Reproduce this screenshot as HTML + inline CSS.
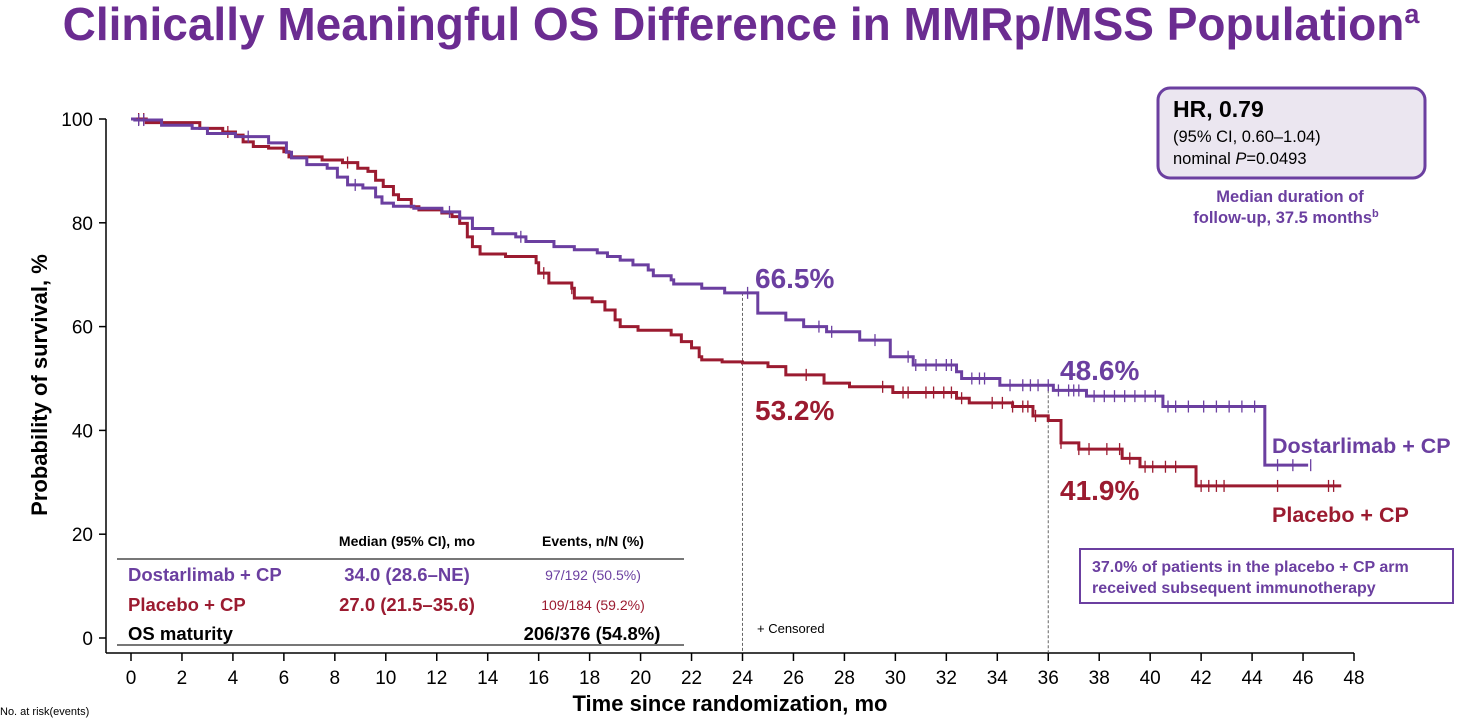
<!DOCTYPE html>
<html><head><meta charset="utf-8">
<style>
html,body{margin:0;padding:0;background:#fff;}
body{width:1482px;height:722px;overflow:hidden;position:relative;font-family:"Liberation Sans",Arial,sans-serif;}
svg text{font-family:"Liberation Sans",Arial,sans-serif;}
</style></head>
<body>
<svg id="chart" width="1482" height="722" xmlns="http://www.w3.org/2000/svg">
<text x="741" y="40" text-anchor="middle" font-size="46" font-weight="bold" fill="#6b2c91">Clinically Meaningful OS Difference in MMRp/MSS Population<tspan font-size="27" dy="-17">a</tspan></text>
<g id="axes"></g>
<g id="series"></g>
<rect x="1158" y="88" width="267" height="90" rx="12" fill="#ebe6f0" stroke="#6b3fa0" stroke-width="3"/>
<text x="1173" y="117" font-size="23" font-weight="bold" fill="#000">HR, 0.79</text>
<text x="1173" y="142" font-size="16.5" fill="#000">(95% CI, 0.60–1.04)</text>
<text x="1173" y="164" font-size="16.5" fill="#000">nominal <tspan font-style="italic">P</tspan>=0.0493</text>
<text x="1290" y="202" text-anchor="middle" font-size="16.5" font-weight="bold" fill="#6b3fa0">Median duration of</text>
<text x="1286" y="223" text-anchor="middle" font-size="16.5" font-weight="bold" fill="#6b3fa0">follow-up, 37.5 months<tspan font-size="11" dy="-6">b</tspan></text>
<text x="755" y="288" font-size="28" font-weight="bold" fill="#6b3fa0">66.5%</text>
<text x="755" y="420" font-size="28" font-weight="bold" fill="#9b1b30">53.2%</text>
<text x="1060" y="380" font-size="28" font-weight="bold" fill="#6b3fa0">48.6%</text>
<text x="1060" y="500" font-size="28" font-weight="bold" fill="#9b1b30">41.9%</text>
<text x="1272" y="453" font-size="21.5" font-weight="bold" fill="#6b3fa0">Dostarlimab + CP</text>
<text x="1272" y="522" font-size="21.5" font-weight="bold" fill="#9b1b30">Placebo + CP</text>
<rect x="1080" y="549" width="373" height="54" fill="#fff" stroke="#6b3fa0" stroke-width="2"/>
<text x="1092" y="572" font-size="16" font-weight="bold" fill="#6b3fa0">37.0% of patients in the placebo + CP arm</text>
<text x="1092" y="593" font-size="16" font-weight="bold" fill="#6b3fa0">received subsequent immunotherapy</text>
<text x="757" y="633" font-size="13" fill="#000">+ Censored</text>
<g>
<line x1="117" y1="559" x2="684" y2="559" stroke="#777" stroke-width="2"/>
<line x1="117" y1="645" x2="684" y2="645" stroke="#777" stroke-width="2"/>
<text x="407" y="546" text-anchor="middle" font-size="14" font-weight="bold">Median (95% CI), mo</text>
<text x="593" y="546" text-anchor="middle" font-size="14" font-weight="bold">Events, n/N (%)</text>
<text x="128" y="581" font-size="18.5" font-weight="bold" fill="#6b3fa0">Dostarlimab + CP</text>
<text x="407" y="581" text-anchor="middle" font-size="18.5" font-weight="bold" fill="#6b3fa0">34.0 (28.6–NE)</text>
<text x="593" y="580" text-anchor="middle" font-size="14" fill="#6b3fa0">97/192 (50.5%)</text>
<text x="128" y="611" font-size="18.5" font-weight="bold" fill="#9b1b30">Placebo + CP</text>
<text x="407" y="611" text-anchor="middle" font-size="18.5" font-weight="bold" fill="#9b1b30">27.0 (21.5–35.6)</text>
<text x="593" y="610" text-anchor="middle" font-size="14" fill="#9b1b30">109/184 (59.2%)</text>
<text x="128" y="640" font-size="18.5" font-weight="bold" fill="#000">OS maturity</text>
<text x="592" y="640" text-anchor="middle" font-size="18.5" font-weight="bold" fill="#000">206/376 (54.8%)</text>
</g>
<text x="730" y="711" text-anchor="middle" font-size="22" font-weight="bold">Time since randomization, mo</text>
<text transform="translate(47,385) rotate(-90)" text-anchor="middle" font-size="22" font-weight="bold">Probability of survival, %</text>
<text x="0" y="715" font-size="11">No. at risk(events)</text>
</svg>
<script>
const xTicks=[0,2,4,6,8,10,12,14,16,18,20,22,24,26,28,30,32,34,36,38,40,42,44,46,48];
const yTicks=[0,20,40,60,80,100];
const dostarTimes=[0,0.15,1.2,2.4,3.0,4.1,5.4,6.1,6.3,6.9,7.7,8.1,8.5,9.1,9.6,9.85,10.3,11.1,12.2,12.9,13.4,14.2,15.1,15.5,16.6,17.4,18.3,18.7,19.2,19.7,20.3,20.5,21.2,21.3,22.4,23.3,24.6,25.7,26.4,27.3,28.6,29.8,30.7,32.4,32.6,34.1,36.2,37.5,40.5,44.5,46.2];
const dostarSurv=[100,99.8,98.8,98.2,97.2,96.6,95.4,93.6,92.5,91.2,90.5,88.8,87.3,86.7,85.0,83.8,83.2,82.8,82.1,80.9,78.9,77.9,77.3,76.4,75.4,74.8,74.2,73.5,72.8,71.9,70.9,69.8,69.0,68.2,67.4,66.5,62.6,61.3,60.0,59.0,57.4,54.2,52.6,51.3,50.0,48.7,47.7,46.6,44.6,33.3,33.3];
const placeboTimes=[0,0.6,2.7,3.6,4.1,4.4,4.8,5.4,6.0,6.2,7.5,8.3,8.9,9.3,9.6,9.9,10.3,10.5,11.0,11.3,12.2,12.6,12.9,13.2,13.4,13.7,14.7,15.9,16.0,16.4,17.3,17.4,18.1,18.6,19.0,19.2,19.9,21.2,21.6,22.0,22.3,22.4,23.2,24.0,25.0,25.7,27.2,28.2,29.9,32.4,32.9,34.6,35.4,36.0,36.5,37.2,38.9,39.6,41.8,47.5];
const placeboSurv=[100,99.3,98.2,97.5,96.9,95.6,94.7,94.4,93.7,92.7,92.1,91.6,90.5,89.9,88.2,87.0,85.4,84.5,83.1,82.5,81.9,81.2,79.9,77.3,75.4,74.0,73.5,72.3,70.3,68.4,67.4,65.5,64.8,63.2,61.3,60.0,59.3,58.4,57.1,55.9,54.2,53.6,53.2,53.0,52.3,50.7,49.1,48.4,47.3,46.2,45.3,44.6,42.8,41.9,37.6,36.4,34.6,33.0,29.3,29.3];
const dostarCensor=[0.3,0.5,4.6,8.8,12.5,15.3,24.2,27.0,27.5,29.2,30.5,30.8,31.2,31.6,32.0,32.2,33.0,33.3,33.5,34.5,35.0,35.3,35.6,36.0,36.4,36.8,37.0,37.2,37.8,38.2,38.6,39.0,39.4,39.8,40.2,40.7,41.0,41.5,42.1,42.6,43.1,43.6,44.1,45.0,45.6,46.3];
const placeboCensor=[0.3,0.5,3.8,8.5,16.2,17.3,26.5,29.5,30.3,30.5,31.2,31.5,31.9,32.2,32.6,33.8,34.2,34.6,35.0,35.2,35.5,36.5,37.2,37.6,38.3,38.8,39.2,39.8,40.1,40.6,41.0,42.0,42.3,42.6,42.9,45.0,47.0,47.2];

const NS='http://www.w3.org/2000/svg';
const X0=131,X1=1354,Y0=638,Y1=119;
function xs(t){return X0+(X1-X0)*t/48;}
function ys(v){return Y0-(Y0-Y1)*v/100;}
function mk(tag,attrs,parent){const e=document.createElementNS(NS,tag);for(const k in attrs)e.setAttribute(k,attrs[k]);parent.appendChild(e);return e;}
const axes=document.getElementById('axes');
const series=document.getElementById('series');

const yAxis=mk('line',{x1:106,y1:ys(100),x2:106,y2:653,stroke:'#000','stroke-width':1.5},axes);


const xAxis=mk('line',{x1:106,y1:653,x2:xs(48),y2:653,stroke:'#000','stroke-width':1.5},axes);


yTicks.forEach(v=>{
  mk('line',{x1:99,y1:ys(v),x2:106,y2:ys(v),stroke:'#000','stroke-width':1.5},axes);
  const t=mk('text',{x:93,y:ys(v)+7,'text-anchor':'end','font-size':19},axes);
  t.textContent=v;
  
  
});
xTicks.forEach(v=>{
  mk('line',{x1:xs(v),y1:653,x2:xs(v),y2:661,stroke:'#000','stroke-width':1.5},axes);
  const t=mk('text',{x:xs(v),y:684,'text-anchor':'middle','font-size':19},axes);
  t.textContent=v;
  
  
});
function stepAt(times,surv,t){let v=surv[0];for(let i=0;i<times.length;i++){if(times[i]<=t)v=surv[i];}return v;}
const r24=mk('line',{x1:xs(24),y1:ys(stepAt(dostarTimes,dostarSurv,24)),x2:xs(24),y2:653,stroke:'#666','stroke-width':1,'stroke-dasharray':'3,2'},axes);


const r36=mk('line',{x1:xs(36),y1:ys(stepAt(dostarTimes,dostarSurv,36)),x2:xs(36),y2:653,stroke:'#666','stroke-width':1,'stroke-dasharray':'3,2'},axes);



function drawKM(times,surv,cens,color,name){
  let d='M'+xs(times[0])+','+ys(surv[0]);
  for(let i=1;i<times.length;i++){d+=' H'+xs(times[i])+' V'+ys(surv[i]);}
  const p=mk('path',{d:d,fill:'none',stroke:color,'stroke-width':3},series);
  
  
  cens.forEach(c=>{
    const v=stepAt(times,surv,c);
    const m=mk('path',{d:'M'+xs(c)+','+(ys(v)-6)+' V'+(ys(v)+6),stroke:color,'stroke-width':1.3},series);
    
    
  });
}
drawKM(placeboTimes,placeboSurv,placeboCensor,'#9b1b30','placebo');
drawKM(dostarTimes,dostarSurv,dostarCensor,'#6b3fa0','dostarlimab');
</script>
</body></html>
